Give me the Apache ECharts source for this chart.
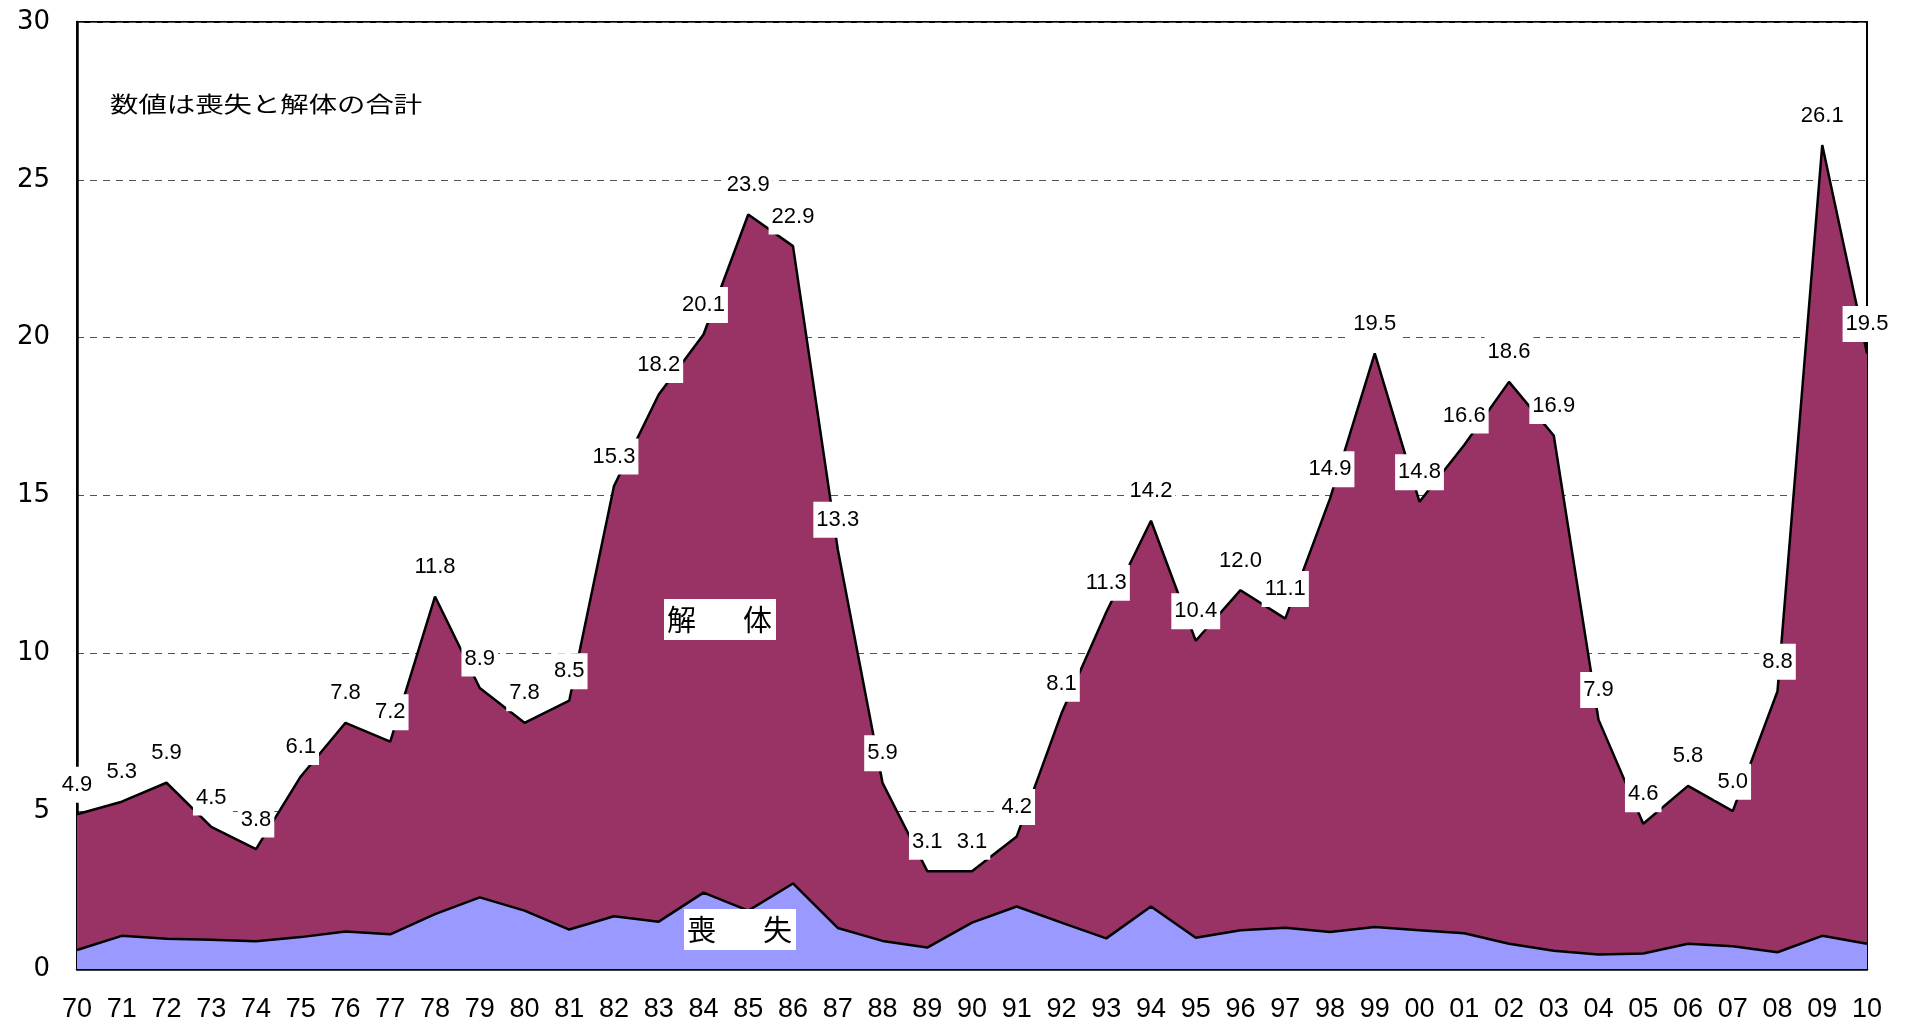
<!DOCTYPE html>
<html>
<head>
<meta charset="utf-8">
<script src="https://cdn.jsdelivr.net/npm/echarts@6/dist/echarts.min.js"></script>
<style>
html,body{margin:0;padding:0;background:#fff;}
#chart{width:1908px;height:1026px;}
</style>
</head>
<body>
<div id="chart"></div>
<script>
var years = ['70','71','72','73','74','75','76','77','78','79','80','81','82','83','84','85','86','87','88','89','90','91','92','93','94','95','96','97','98','99','00','01','02','03','04','05','06','07','08','09','10'];
var totals = [4.9,5.3,5.9,4.5,3.8,6.1,7.8,7.2,11.8,8.9,7.8,8.5,15.3,18.2,20.1,23.9,22.9,13.3,5.9,3.1,3.1,4.2,8.1,11.3,14.2,10.4,12.0,11.1,14.9,19.5,14.8,16.6,18.6,16.9,7.9,4.6,5.8,5.0,8.8,26.1,19.5];
var loss = [0.60,1.05,0.96,0.93,0.88,1.01,1.19,1.10,1.74,2.27,1.85,1.25,1.67,1.50,2.42,1.85,2.71,1.30,0.89,0.68,1.47,1.98,1.47,0.97,1.98,0.99,1.23,1.31,1.17,1.33,1.23,1.13,0.80,0.58,0.46,0.49,0.80,0.72,0.53,1.05,0.80];
var dismantle = totals.map(function(t,i){ return Math.round((t - loss[i])*100)/100; });
var yTicks = [0,5,10,15,20,25,30];

var chart = echarts.init(document.getElementById('chart'));
var sans = '"Liberation Sans", Arial, sans-serif';
var wide = '"DejaVu Sans", sans-serif';
var jpFont = '"Noto Sans CJK JP", sans-serif';
chart.setOption({
  animation: false,
  backgroundColor: '#fff',
  grid: {left: 77, right: 41, top: 22, bottom: 57, show: true, borderColor: '#000', borderWidth: 2, backgroundColor: 'transparent'},
  xAxis: {
    type: 'category', data: years, boundaryGap: false,
    axisLine: {lineStyle: {color: '#000', width: 2.5}},
    axisTick: {show: true, inside: true, length: 9, lineStyle: {color: '#000', width: 1}},
    axisLabel: {color: '#000', fontSize: 27, fontFamily: sans, margin: 27, interval: 0},
    splitLine: {show: false}
  },
  yAxis: {
    type: 'value', min: 0, max: 30, interval: 5,
    axisLine: {show: true, lineStyle: {color: '#000', width: 2.5}},
    axisTick: {show: false},
    axisLabel: {color: '#000', fontSize: 26, fontFamily: wide, margin: 27,
      formatter: function(v){ return yTicks.indexOf(v) >= 0 ? String(v) : ''; }},
    splitLine: {show: true, lineStyle: {color: '#555', width: 1, type: [7,6]}}
  },
  series: [
    {
      name: '喪失', type: 'line', stack: 'total', data: loss,
      showSymbol: false, symbol: 'none',
      lineStyle: {color: '#000', width: 2.5},
      areaStyle: {color: '#9999FF', opacity: 1},
      z: 3
    },
    {
      name: '解体', type: 'line', stack: 'total', data: dismantle,
      showSymbol: true, symbol: 'circle', symbolSize: 1,
      itemStyle: {color: 'rgba(0,0,0,0)'},
      lineStyle: {color: '#000', width: 2.5},
      areaStyle: {color: '#993366', opacity: 1},
      z: 2,
      label: {
        show: true, position: 'top', distance: 11,
        formatter: function(p){ return totals[p.dataIndex].toFixed(1); },
        color: '#000', fontSize: 22, lineHeight: 24, fontFamily: sans,
        backgroundColor: '#fff', padding: [6, 3]
      },
      labelLayout: {hideOverlap: false}
    }
  ],
  graphic: [
    {type: 'text', x: 110, y: 104, scaleX: 1.29, z: 100,
      style: {text: '数値は喪失と解体の合計', fontSize: 22, fontFamily: jpFont, fill: '#000', verticalAlign: 'middle'}},
    {type: 'rect', z: 100, shape: {x: 664, y: 599, width: 112, height: 41}, style: {fill: '#fff'}},
    {type: 'text', z: 101, x: 667, y: 620, style: {text: '解', fontSize: 29, fontFamily: jpFont, fill: '#000', verticalAlign: 'middle'}},
    {type: 'text', z: 101, x: 743, y: 620, style: {text: '体', fontSize: 29, fontFamily: jpFont, fill: '#000', verticalAlign: 'middle'}},
    {type: 'rect', z: 100, shape: {x: 684, y: 909, width: 112, height: 41}, style: {fill: '#fff'}},
    {type: 'text', z: 101, x: 687, y: 930, style: {text: '喪', fontSize: 29, fontFamily: jpFont, fill: '#000', verticalAlign: 'middle'}},
    {type: 'text', z: 101, x: 763, y: 930, style: {text: '失', fontSize: 29, fontFamily: jpFont, fill: '#000', verticalAlign: 'middle'}}
  ]
});
</script>
</body>
</html>
